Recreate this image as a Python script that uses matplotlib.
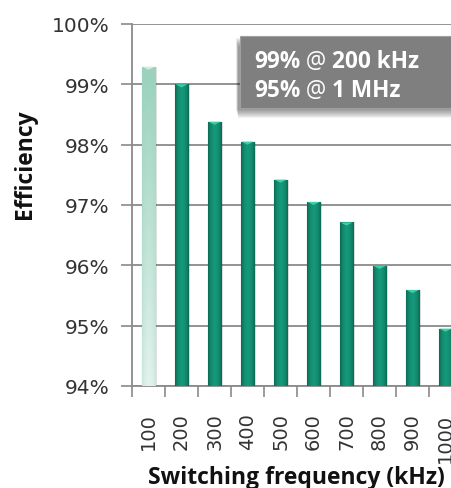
import numpy as np
import matplotlib
matplotlib.use("Agg")
import matplotlib.pyplot as plt
from matplotlib.patches import Rectangle
from matplotlib.ticker import FuncFormatter, FixedLocator

plt.rcParams["font.family"] = ["DejaVu Sans"]
LABEL_FONT = ["Open Sans", "DejaVu Sans"]

freqs = ["100", "200", "300", "400", "500", "600", "700", "800", "900", "1000"]
eff = [99.29, 99.00, 98.38, 98.05, 97.42, 97.05, 96.71, 95.99, 95.59, 94.95]
yticks = [94, 95, 96, 97, 98, 99, 100]
box_lines = [("99%", " @ ", "200 kHz"), ("95%", " @ ", "1 MHz")]

W, H = 452, 489
fig = plt.figure(figsize=(W / 100, H / 100), dpi=100)
ax = fig.add_axes([132 / W, 1 - 387 / H, 330 / W, 362 / H])

x = np.arange(len(freqs))
bw = 0.40
grey = "#8a8a8a"

# shadows + bars with a gradient inside
for i, v in enumerate(eff):
    ax.add_patch(Rectangle((x[i] - bw / 2 + 0.06, 94), bw, v - 94, fc="#000000",
                           alpha=0.10, lw=0, zorder=2))
bars = ax.bar(x, [v - 94 for v in eff], bottom=94, width=bw, zorder=3, lw=0.8)
grad = np.linspace(-1, 1, 40)
for i, b in enumerate(bars):
    if i == 0:
        b.set_facecolor("#bfe4d6"); b.set_edgecolor("#6fae98")
        img = np.outer(np.linspace(1, 0, 60), 1 - 0.35 * grad ** 2)
        cm = matplotlib.colors.LinearSegmentedColormap.from_list("l", ["#9ad2bd", "#e2f3ed"])
    else:
        b.set_facecolor("#138a6c"); b.set_edgecolor("#0a5744")
        img = np.tile(1 - grad ** 2, (10, 1))
        cm = matplotlib.colors.LinearSegmentedColormap.from_list("d", ["#0c6a53", "#16987a"])
    im = ax.imshow(img, cmap=cm, aspect="auto", zorder=3.5, vmin=0, vmax=1,
                   extent=[x[i] - bw / 2, x[i] + bw / 2, 94, eff[i]], origin="lower")
    im.set_clip_path(b)

tri = [(-1, 0), (1, 0), (0, -0.5), (-1, 0)]
ax.scatter(x, eff, marker=tri, s=75, c=["#d0ece1"] + ["#3fcfa6"] * 9, lw=0, zorder=4)

ax.set_xlim(-0.5, len(freqs) - 0.5)
ax.set_ylim(94, 100)
ax.set_yticks(yticks)
ax.yaxis.set_major_formatter(FuncFormatter(lambda v, p: "%d%%" % v))
ax.set_xticks(x)
ax.set_xticklabels(freqs, rotation=90)
ax.xaxis.set_minor_locator(FixedLocator(np.arange(-0.5, len(freqs), 1)))
ax.tick_params(axis="x", which="major", length=0, pad=19, labelsize=14, labelcolor="#333333")
ax.tick_params(axis="x", which="minor", length=8, width=1.2, color=grey)
ax.tick_params(axis="y", length=8, width=1.2, color=grey, pad=8, labelsize=14.5,
               labelcolor="#333333")
ax.grid(axis="y", color=grey, lw=1.3, zorder=1)
ax.set_axisbelow(True)
for s in ["top", "right"]:
    ax.spines[s].set_visible(False)
for s in ["left", "bottom"]:
    ax.spines[s].set_color(grey); ax.spines[s].set_linewidth(1.3)

fig.text(25 / W, 1 - 164 / H, "Efficiency", rotation=90, ha="center", va="center",
         fontsize=16.5, fontweight="bold", color="#111111", family=LABEL_FONT)
fig.text(296 / W, 1 - 484 / H, "Switching frequency (kHz)", ha="center", va="baseline",
         fontsize=16.5, fontweight="bold", color="#111111", family=LABEL_FONT)

# annotation box with a soft shadow
for k in range(9):
    fig.patches.append(Rectangle(((236 + k * 0.3) / W, 1 - (111 + k) / H), 230 / W, 72 / H,
                                 transform=fig.transFigure, fc="#000000", alpha=0.05,
                                 lw=0, zorder=5))
fig.patches.append(Rectangle((240 / W, 1 - 109 / H), 220 / W, 72 / H,
                             transform=fig.transFigure, fc="#7f7f7f", ec="#a0a0a0",
                             lw=0.8, zorder=6))
fig.canvas.draw()
r = fig.canvas.get_renderer()
for j, parts in enumerate(box_lines):
    xp = 254
    yc = 1 - (59 + 29 * j) / H
    for p, wgt in zip(parts, ["bold", "normal", "bold"]):
        t = fig.text(xp / W, yc, p, ha="left", va="center_baseline", fontsize=16.3,
                     fontweight=wgt, color="white", zorder=7, family=LABEL_FONT)
        xp += t.get_window_extent(r).width

fig.savefig("out.png", dpi=100)
